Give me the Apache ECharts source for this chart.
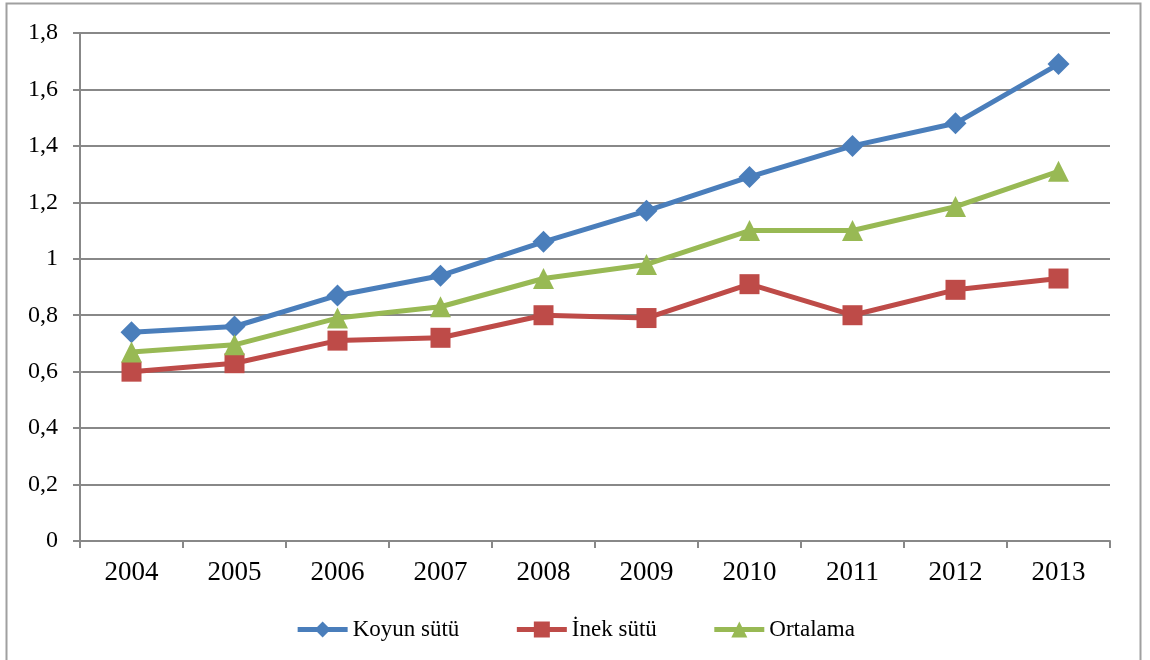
<!DOCTYPE html>
<html><head><meta charset="utf-8">
<script src="https://cdn.jsdelivr.net/npm/echarts@6/dist/echarts.min.js"></script>
<style>html,body{margin:0;padding:0;background:#fff;}#c{width:1150px;height:660px;}</style>
</head><body><div id="c"></div>
<script>
const years = ['2004','2005','2006','2007','2008','2009','2010','2011','2012','2013'];
const koyun = [0.74,0.76,0.87,0.94,1.06,1.17,1.29,1.40,1.48,1.69];
const inek = [0.60,0.63,0.71,0.72,0.80,0.79,0.91,0.80,0.89,0.93];
const ortalama = [0.67,0.695,0.79,0.83,0.93,0.98,1.10,1.10,1.185,1.31];
const names = ['Koyun sütü','İnek sütü','Ortalama'];
const yTicks = ['0','0,2','0,4','0,6','0,8','1','1,2','1,4','1,6','1,8'];

const font = 'Liberation Serif, Times New Roman, serif';
const chart = echarts.init(document.getElementById('c'), null, {renderer:'canvas'});
chart.setOption({
  animation:false,
  backgroundColor:'#fff',
  graphic:[{type:'rect',shape:{x:6.5,y:3.5,width:1134,height:700},style:{fill:'none',stroke:'#a0a0a0',lineWidth:2}}],
  grid:{left:80,right:40,top:33,bottom:119},
  legend:{top:613,left:'center',itemWidth:50,itemHeight:20,itemGap:55,
    lineStyle:{width:5},
    textStyle:{fontFamily:font,fontSize:23,color:'#000',padding:[0,0,0,0]},
    data:names},
  xAxis:{type:'category',data:years,boundaryGap:true,
    axisLine:{lineStyle:{color:'#888',width:2}},
    axisTick:{show:true,length:7,lineStyle:{color:'#888',width:2}},
    axisLabel:{fontFamily:font,fontSize:27,color:'#000',margin:18}},
  yAxis:{type:'value',min:0,max:1.8,interval:0.2,
    axisLine:{show:true,lineStyle:{color:'#888',width:2}},
    axisTick:{show:true,length:7,inside:false,lineStyle:{color:'#888',width:2}},
    splitLine:{lineStyle:{color:'#888',width:2}},
    axisLabel:{fontFamily:font,fontSize:24,color:'#000',margin:22,
      formatter:(v)=>yTicks[Math.round(v/0.2)]}},
  series:[
    {name:names[0],type:'line',data:koyun,color:'#4A7EBB',symbol:'diamond',symbolSize:22,
      lineStyle:{width:5},itemStyle:{color:'#4A7EBB'}},
    {name:names[1],type:'line',data:inek,color:'#BE4B48',symbol:'rect',symbolSize:20,
      lineStyle:{width:5},itemStyle:{color:'#BE4B48'}},
    {name:names[2],type:'line',data:ortalama,color:'#98B954',symbol:'triangle',symbolSize:21,
      lineStyle:{width:5},itemStyle:{color:'#98B954'}}
  ]
});
</script></body></html>
